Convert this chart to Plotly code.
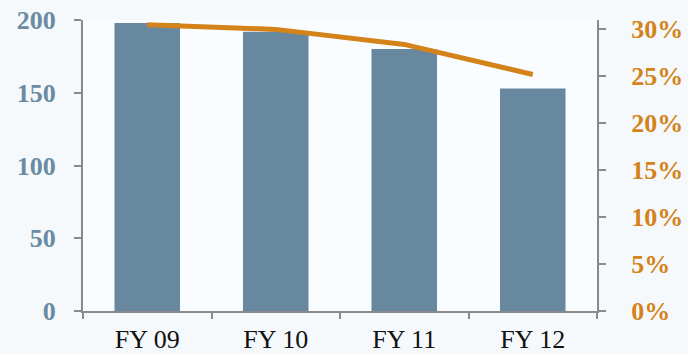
import plotly.graph_objects as go

# Fiscal years and their values
years = ["FY 09", "FY 10", "FY 11", "FY 12"]
volume = [198, 192, 180, 153]          # left axis (bars)
margin_pct = [0.305, 0.300, 0.284, 0.252]  # right axis (line)

BAR = "#67889e"
LINE = "#d4831a"
AXIS = "#8a8a8a"
SERIF = "Liberation Serif, Times New Roman, serif"

fig = go.Figure()
fig.add_trace(go.Bar(x=years, y=volume, marker=dict(color=BAR, line=dict(width=0)),
                     yaxis="y", showlegend=False))
fig.add_trace(go.Scatter(x=years, y=margin_pct, mode="lines",
                         line=dict(color=LINE, width=5), yaxis="y2", showlegend=False))

fig.update_layout(
    width=688, height=354,
    margin=dict(l=83, r=91, t=20, b=43),
    paper_bgcolor="#f5f9fc",
    plot_bgcolor="#fafdff",
    bargap=0.49,
    xaxis=dict(
        type="category", range=[-0.5, 3.5], automargin=False,
        showline=True, linecolor=AXIS, linewidth=2,
        ticks="outside", tickson="boundaries", ticklen=6, tickcolor=AXIS, tickwidth=2,
        tickfont=dict(family=SERIF, size=26, color="#111111"),
        ticklabelstandoff=4,
        showgrid=False, zeroline=False,
    ),
    yaxis=dict(
        range=[0, 200], dtick=50, automargin=False,
        showline=True, linecolor=AXIS, linewidth=2,
        ticks="outside", ticklen=7, tickcolor=AXIS, tickwidth=2,
        tickfont=dict(family=SERIF, size=26, color="#6a8ba2", weight="bold"),
        ticklabelstandoff=13,
        showgrid=False, zeroline=False,
    ),
    yaxis2=dict(
        overlaying="y", side="right", automargin=False,
        range=[0, 0.31], tick0=0, dtick=0.05, tickformat=".0%",
        showline=True, linecolor=AXIS, linewidth=2,
        ticks="outside", ticklen=7, tickcolor=AXIS, tickwidth=2,
        tickfont=dict(family=SERIF, size=26, color=LINE, weight="bold"),
        ticklabelstandoff=20,
        showgrid=False, zeroline=False,
    ),
)

fig.write_html("out.html")
